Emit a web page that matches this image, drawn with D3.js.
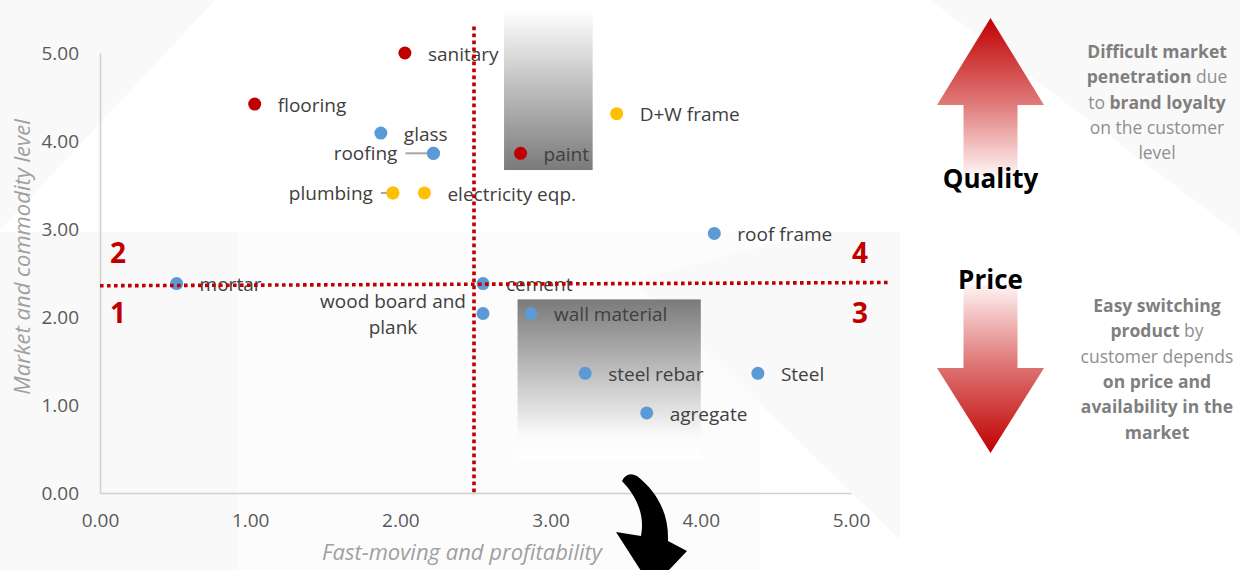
<!DOCTYPE html>
<html>
<head>
<meta charset="utf-8">
<script src="https://cdn.jsdelivr.net/npm/d3@7"></script>
<style>
  body { margin: 0; background: #fff; }
  svg { display: block; font-family: "Open Sans", sans-serif; }
</style>
</head>
<body>
<svg id="chart" width="1240" height="570"></svg>
<script>
// ---- data ----
const names = ["sanitary", "flooring", "glass", "roofing", "plumbing", "electricity eqp.", "paint",
    "D+W frame", "roof frame", "mortar", "cement", "wood board and plank", "wall material",
    "steel rebar", "Steel", "agregate"];
const fastMoving = [2.03, 1.03, 1.87, 2.22, 1.95, 2.16, 2.80, 3.44, 4.09, 0.51, 2.55, 2.55, 2.87, 3.23, 4.38, 3.64];
const marketLevel = [5.00, 4.42, 4.09, 3.86, 3.41, 3.41, 3.86, 4.31, 2.95, 2.38, 2.38, 2.04, 2.04, 1.36, 1.36, 0.91];
const segment = ["brand", "brand", "commodity", "commodity", "mixed", "mixed", "brand", "mixed",
    "commodity", "commodity", "commodity", "commodity", "commodity", "commodity", "commodity", "commodity"];
const labelSide = ["right", "right", "right", "left", "left", "right", "right", "right",
    "right", "right", "right", "wrap", "right", "right", "right", "right"];

const xTicks = [0, 1, 2, 3, 4, 5];
const yTicks = [0, 1, 2, 3, 4, 5];

// quadrant split lines (in data units)
const splitX = 2.49;
const splitXTop = 5.3;
const splitY = [[0, 2.355], [5.25, 2.392]];
const quadrants = [
    { label: "2", x: 0.12, y: 2.73 }, { label: "1", x: 0.12, y: 2.05 },
    { label: "4", x: 5.06, y: 2.73 }, { label: "3", x: 5.06, y: 2.05 }
];
// shaded highlight boxes (data units)
const boxes = [
    { x0: 2.69, x1: 3.28, y0: 3.67, y1: 5.49, fade: "down" },
    { x0: 2.78, x1: 4.00, y0: 0.38, y1: 2.20, fade: "up" }
];

const upperNote = [[["Difficult market", true]], [["penetration", true], [" due", false]],
    [["to ", false], ["brand loyalty", true]], [["on the customer", false]], [["level", false]]];
const lowerNote = [[["Easy switching", true]], [["product", true], [" by", false]],
    [["customer depends", false]], [["on price and", true]], [["availability in the", true]], [["market", true]]];

const data = names.map((n, i) => ({ name: n, x: fastMoving[i], y: marketLevel[i], seg: segment[i], side: labelSide[i] }));

// ---- setup ----
const svg = d3.select("#chart");
const x = d3.scaleLinear().domain([0, 5]).range([100, 851]);
const y = d3.scaleLinear().domain([0, 5]).range([493, 53]);
const color = d3.scaleOrdinal().domain(["brand", "mixed", "commodity"]).range(["#c00000", "#ffc000", "#5b9bd5"]);

const defs = svg.append("defs");
function grad(id, stops, y1, y2) {
    const g = defs.append("linearGradient").attr("id", id)
        .attr("gradientUnits", "userSpaceOnUse")
        .attr("x1", 0).attr("x2", 0).attr("y1", y1).attr("y2", y2);
    stops.forEach(s => g.append("stop").attr("offset", s[0]).attr("stop-color", s[1]));
}
grad("fadeDown", [[0, "#ffffff"], [1, "#7a7a7a"]], y(boxes[0].y1), y(boxes[0].y0));
grad("fadeUp", [[0, "#7a7a7a"], [0.85, "#fafafa"], [1, "#ffffff"]], y(boxes[1].y1), y(boxes[1].y0));
grad("arrowUp", [[0, "#c00000"], [0.55, "#e07a7a"], [1, "#fff3f3"]], 18, 175);
grad("arrowDown", [[0, "#fff3f3"], [0.45, "#e07a7a"], [1, "#c00000"]], 285, 453);

// faint background shapes
const bg = svg.append("g");
[
    [[0, 0], [215, 0], [0, 230]],
    [[930, 0], [1240, 0], [1240, 235]],
    [[0, 232], [237, 232], [237, 570], [0, 570]],
    [[237, 232], [760, 232], [760, 570], [237, 570]],
    [[633, 280], [900, 540], [900, 232], [820, 232]]
].forEach((p, i) => bg.append("polygon")
    .attr("points", p.map(d => d.join(",")).join(" "))
    .attr("fill", i === 3 ? "#fcfcfc" : "#f9f9f9"));

// highlight boxes
svg.append("g").selectAll("rect").data(boxes).join("rect")
    .attr("x", d => x(d.x0)).attr("width", d => x(d.x1) - x(d.x0))
    .attr("y", d => y(d.y1)).attr("height", d => y(d.y0) - y(d.y1))
    .attr("fill", d => d.fade === "down" ? "url(#fadeDown)" : "url(#fadeUp)");

// axes
const yAxis = svg.append("g").attr("transform", `translate(${x(0)},0)`)
    .call(d3.axisLeft(y).tickValues(yTicks).tickFormat(d3.format(".2f")).tickSize(0).tickPadding(21));
const xAxis = svg.append("g").attr("transform", `translate(0,${y(0)})`)
    .call(d3.axisBottom(x).tickValues(xTicks).tickFormat(d3.format(".2f")).tickSize(0).tickPadding(21));
[xAxis, yAxis].forEach(a => {
    a.select(".domain").attr("stroke", "#d0d0d0").attr("stroke-width", 1.6);
    a.selectAll("text").attr("fill", "#595959").style("font-size", "19px").style("font-family", "Open Sans");
});

// axis titles
svg.append("text").attr("x", 462).attr("y", 552).attr("dy", "0.35em")
    .attr("text-anchor", "middle").attr("fill", "#a0a0a0")
    .style("font-style", "italic").style("font-size", "22px")
    .text("Fast-moving and profitability");
svg.append("text").attr("transform", "translate(22,257) rotate(-90)").attr("dy", "0.35em")
    .attr("text-anchor", "middle").attr("fill", "#a0a0a0")
    .style("font-style", "italic").style("font-size", "22px")
    .text("Market and commodity level");

// points
const pts = svg.append("g");
pts.selectAll("circle").data(data).join("circle")
    .attr("cx", d => x(d.x)).attr("cy", d => y(d.y)).attr("r", 6.5)
    .attr("fill", d => color(d.seg));

// leader lines for left-side labels
const leaderGap = { roofing: [-28, 0], plumbing: [-12, 0] };
pts.selectAll("line").data(data.filter(d => d.side === "left")).join("line")
    .attr("x1", d => x(d.x) + leaderGap[d.name][0]).attr("x2", d => x(d.x))
    .attr("y1", d => y(d.y)).attr("y2", d => y(d.y))
    .attr("stroke", "#a6a6a6").attr("stroke-width", 2);
pts.selectAll("circle.top").data(data.filter(d => d.side === "left")).join("circle")
    .attr("class", "top")
    .attr("cx", d => x(d.x)).attr("cy", d => y(d.y)).attr("r", 6.5)
    .attr("fill", d => color(d.seg));

// labels
const leftOffset = { roofing: -36, plumbing: -20 };
const labels = svg.append("g").style("font-size", "19px").attr("fill", "#404040");
data.forEach(d => {
    if (d.side === "right") {
        labels.append("text").attr("x", x(d.x) + 23).attr("y", y(d.y) + 1).attr("dy", "0.35em").text(d.name);
    } else if (d.side === "left") {
        labels.append("text").attr("x", x(d.x) + leftOffset[d.name]).attr("y", y(d.y)).attr("dy", "0.35em")
            .attr("text-anchor", "end").text(d.name);
    } else {
        const t = labels.append("text").attr("text-anchor", "middle");
        t.append("tspan").attr("x", x(d.x) - 90).attr("y", y(d.y) - 12).attr("dy", "0.35em").text("wood board and");
        t.append("tspan").attr("x", x(d.x) - 90).attr("y", y(d.y) + 14).attr("dy", "0.35em").text("plank");
    }
});

// quadrant split lines (drawn over the marks)
const dotted = svg.append("g").attr("stroke", "#c00000").attr("stroke-width", 3.6)
    .attr("stroke-dasharray", "3.6,3.4").attr("fill", "none");
dotted.append("line").attr("x1", x(splitX)).attr("x2", x(splitX)).attr("y1", y(splitXTop)).attr("y2", y(0));
dotted.append("line").attr("x1", x(splitY[0][0])).attr("y1", y(splitY[0][1]))
    .attr("x2", x(splitY[1][0])).attr("y2", y(splitY[1][1]));

svg.append("g").selectAll("text").data(quadrants).join("text")
    .attr("x", d => x(d.x)).attr("y", d => y(d.y)).attr("dy", "0.36em")
    .attr("text-anchor", "middle").attr("fill", "#c00000")
    .style("font-weight", "bold").style("font-size", "28px")
    .text(d => d.label);

// black curved arrow under the x axis
svg.append("path")
    .attr("d", "M622,481 Q627,471 637,476 C656,491 669,512 668,541 L687,551 L652,588 L616,532 L641,536 C645,515 637,497 622,481 Z")
    .attr("fill", "#000");

// red arrows
svg.append("polygon").attr("fill", "url(#arrowUp)")
    .attr("points", "990.5,18 1044,105 1017.5,105 1017.5,175 963.5,175 963.5,105 937,105");
svg.append("polygon").attr("fill", "url(#arrowDown)")
    .attr("points", "963.5,285 1017.5,285 1017.5,368 1044,368 990.5,453 937,368 963.5,368");
svg.append("text").attr("x", 990.5).attr("y", 188).attr("text-anchor", "middle")
    .style("font-weight", "bold").style("font-size", "26px").attr("fill", "#000").text("Quality");
svg.append("text").attr("x", 990.5).attr("y", 289).attr("text-anchor", "middle")
    .style("font-weight", "bold").style("font-size", "26px").attr("fill", "#000").text("Price");

// side notes
function note(lines, top) {
    const t = svg.append("text").attr("text-anchor", "middle").style("font-size", "17.5px");
    lines.forEach((parts, i) => {
        const line = t.append("tspan").attr("x", 1157).attr("y", top + i * 25.4).attr("dy", "0.35em");
        parts.forEach(p => line.append("tspan")
            .attr("fill", p[1] ? "#7f7f7f" : "#8f8f8f")
            .style("font-weight", p[1] ? "bold" : "normal")
            .text(p[0]));
    });
}
note(upperNote, 51.7);
note(lowerNote, 305.7);
</script>
</body>
</html>
